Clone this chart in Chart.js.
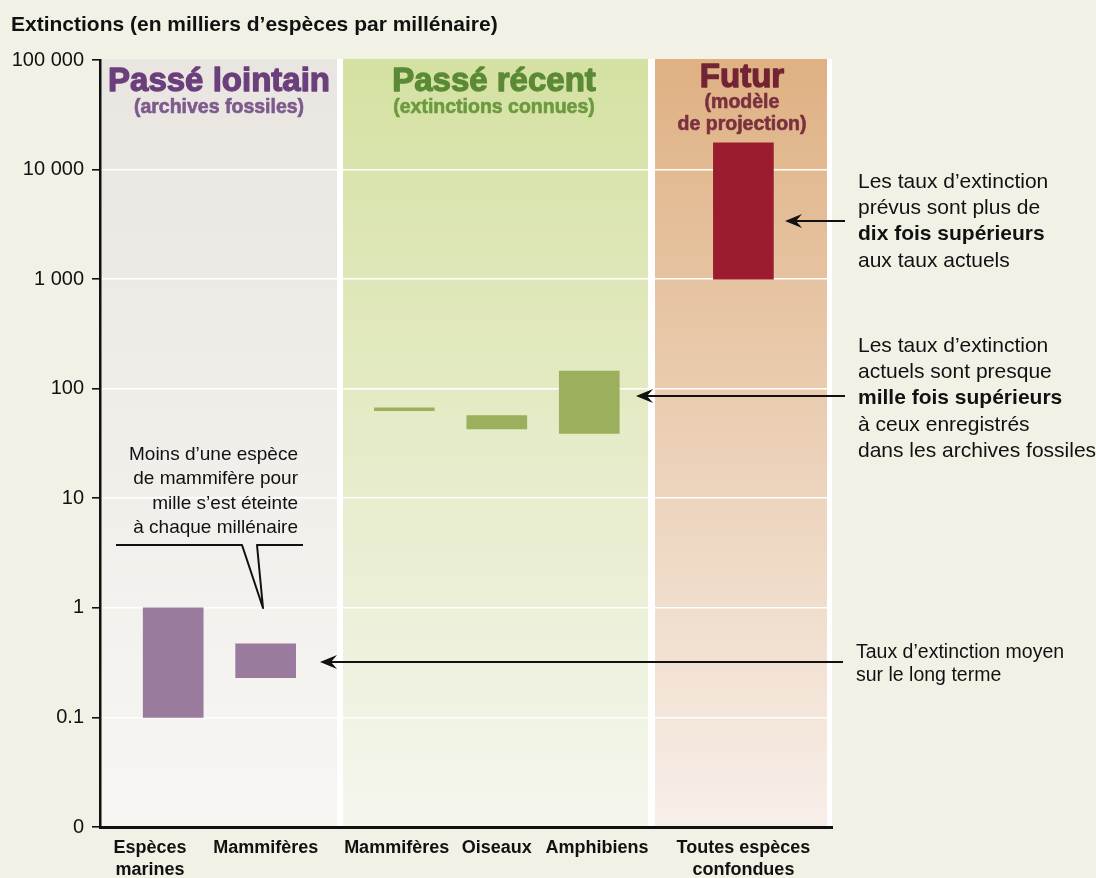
<!DOCTYPE html>
<html lang="fr">
<head>
<meta charset="utf-8">
<title>Extinctions</title>
<script src="https://cdn.jsdelivr.net/npm/chart.js@4.4.1/dist/chart.umd.min.js"></script>
<style>
  html, body { margin: 0; padding: 0; background: #f2f1e6; }
  #wrap { width: 1096px; height: 878px; position: relative; }
</style>
</head>
<body>
<div id="wrap"><canvas id="graphique"></canvas></div>
<script>
// Données (milliers d'espèces par millénaire)
const categories = [["Espèces", "marines"], "Mammifères", "Mammifères", "Oiseaux", "Amphibiens", ["Toutes espèces", "confondues"]];
const periodes = ["lointain", "lointain", "recent", "recent", "recent", "futur"];
const bas = [0.1, 0.23, 63, 43, 39, 1000];
const hauts = [1, 0.47, 67, 57, 145, 17500];
const yTicks = [0.01, 0.1, 1, 10, 100, 1000, 10000, 100000];
const yTickLabels = ["0", "0.1", "1", "10", "100", "1 000", "10 000", "100 000"];

// mise en page : l'axe x est découpé en emplacements, la plupart restent vides
const NB_EMPLACEMENTS = 95;
const EMPLACEMENTS = [9, 21, 39, 51, 63, 83];      // barres
const EMPLACEMENTS_TEXTE = [6, 21, 38, 51, 64, 83]; // étiquettes (décalées comme sur l'original)

const couleurs = { lointain: "#9a7b9d", recent: "#9caf5c", futur: "#9b1b2f" };
const POLICE = "'Liberation Sans', Arial, Helvetica, sans-serif";

const etiquettes = Array(NB_EMPLACEMENTS).fill("");
const valeurs = Array(NB_EMPLACEMENTS).fill(null);
const fonds = Array(NB_EMPLACEMENTS).fill("transparent");
EMPLACEMENTS.forEach((s, i) => {
  valeurs[s] = [bas[i], hauts[i]];
  fonds[s] = couleurs[periodes[i]];
});
EMPLACEMENTS_TEXTE.forEach((s, i) => { etiquettes[s] = categories[i]; });

function fleche(ctx, x1, x2, y) {
  ctx.beginPath();
  ctx.moveTo(x2, y);
  ctx.lineTo(x1 + 8, y);
  ctx.stroke();
  ctx.beginPath();
  ctx.moveTo(x1, y);
  ctx.lineTo(x1 + 17, y - 7);
  ctx.lineTo(x1 + 11, y);
  ctx.lineTo(x1 + 17, y + 7);
  ctx.closePath();
  ctx.fill();
}

function lignes(ctx, textes, x, y, pas, taille, gras) {
  textes.forEach((t, i) => {
    ctx.font = (gras.includes(i) ? "bold " : "") + taille + "px " + POLICE;
    ctx.fillText(t, x, y + i * pas);
  });
}

function titreGras(ctx, texte, x, y, taille, couleur, epaisseur) {
  ctx.font = "bold " + taille + "px " + POLICE;
  ctx.fillStyle = couleur;
  ctx.strokeStyle = couleur;
  ctx.lineWidth = epaisseur;
  ctx.lineJoin = "round";
  ctx.fillText(texte, x, y);
  ctx.strokeText(texte, x, y);
}

const decor = {
  id: "decor",
  beforeDraw(chart) {
    const { ctx, chartArea: a } = chart;
    ctx.save();
    ctx.fillStyle = "#ffffff";
    ctx.fillRect(a.left, a.top - 1, a.right - a.left, a.bottom - a.top + 1);
    const panneaux = [
      [a.left, 337, "#e9e6e1", "#f7f6f2"],
      [343, 648, "#d5e1a2", "#f5f6ee"],
      [655, 827, "#dfb183", "#f7efe9"],
    ];
    panneaux.forEach(([x1, x2, c1, c2]) => {
      const g = ctx.createLinearGradient(0, a.top, 0, a.bottom);
      g.addColorStop(0, c1);
      g.addColorStop(1, c2);
      ctx.fillStyle = g;
      ctx.fillRect(x1, a.top - 1, x2 - x1, a.bottom - a.top + 1);
    });
    ctx.restore();
  },
  afterDraw(chart) {
    const ctx = chart.ctx;
    ctx.save();
    ctx.textBaseline = "middle";

    // titre de l'axe
    ctx.fillStyle = "#111";
    ctx.textAlign = "left";
    ctx.font = "bold 21px " + POLICE;
    ctx.fillText("Extinctions (en milliers d’espèces par millénaire)", 11, 25);

    // en-têtes des périodes
    ctx.textAlign = "center";
    titreGras(ctx, "Passé lointain", 219, 82, 33, "#6b3f7c", 1.3);
    titreGras(ctx, "(archives fossiles)", 219, 108, 19.5, "#7d5a8d", 0.6);
    titreGras(ctx, "Passé récent", 494, 82, 33, "#5b8a34", 1.3);
    titreGras(ctx, "(extinctions connues)", 494, 108, 19.5, "#6c9a3f", 0.6);
    titreGras(ctx, "Futur", 742, 78, 33, "#722434", 1.3);
    titreGras(ctx, "(modèle", 742, 103, 19.5, "#7b3040", 0.6);
    titreGras(ctx, "de projection)", 742, 125, 19.5, "#7b3040", 0.6);

    // notes de droite
    ctx.fillStyle = "#111";
    ctx.textAlign = "left";
    lignes(ctx, ["Les taux d’extinction", "prévus sont plus de", "dix fois supérieurs", "aux taux actuels"], 858, 182, 26.3, 21, [2]);
    lignes(ctx, ["Les taux d’extinction", "actuels sont presque", "mille fois supérieurs", "à ceux enregistrés", "dans les archives fossiles"], 858, 346, 26.3, 21, [2]);
    lignes(ctx, ["Taux d’extinction moyen", "sur le long terme"], 856, 653, 22.5, 19.5, []);

    // bulle des mammifères
    ctx.textAlign = "right";
    lignes(ctx, ["Moins d’une espèce", "de mammifère pour", "mille s’est éteinte", "à chaque millénaire"], 298, 455, 24.2, 19, []);

    ctx.strokeStyle = "#111";
    ctx.fillStyle = "#111";
    ctx.lineWidth = 2;
    ctx.beginPath();
    ctx.moveTo(116, 545);
    ctx.lineTo(242, 545);
    ctx.lineTo(263, 608);
    ctx.lineTo(257, 545);
    ctx.lineTo(303, 545);
    ctx.stroke();

    // flèches
    fleche(ctx, 785, 845, 221);
    fleche(ctx, 636, 845, 396);
    fleche(ctx, 320, 843, 662);

    ctx.restore();
  },
};

new Chart(document.getElementById("graphique"), {
  type: "bar",
  data: {
    labels: etiquettes,
    datasets: [
      {
        data: valeurs,
        backgroundColor: fonds,
        borderWidth: 0,
        barThickness: 60,
      },
    ],
  },
  options: {
    responsive: true,
    maintainAspectRatio: false,
    animation: false,
    layout: { padding: { left: 12, top: 60, right: 264, bottom: 0 } },
    plugins: {
      legend: { display: false },
      tooltip: {
        filter: (item) => item.raw !== null,
      },
    },
    scales: {
      x: {
        grid: { display: false, drawTicks: false },
        border: { display: true, color: "#111", width: 3 },
        ticks: {
          autoSkip: false,
          maxRotation: 0,
          minRotation: 0,
          padding: 11,
          color: "#111",
          font: { family: POLICE, size: 18, weight: "bold", lineHeight: 1.17 },
        },
        afterFit: (s) => { s.height = 51; },
      },
      y: {
        type: "logarithmic",
        min: 0.01,
        max: 100000,
        afterBuildTicks: (s) => { s.ticks = yTicks.map((v) => ({ value: v })); },
        grid: {
          color: (c) => (c.tick && c.tick.value >= 100000 ? "rgba(0,0,0,0)" : "#ffffff"),
          lineWidth: 1.6,
          tickColor: "#111",
          tickLength: 8,
        },
        border: { display: true, color: "#111", width: 2.5 },
        ticks: {
          padding: 8,
          color: "#111",
          font: { family: POLICE, size: 20 },
          callback: (v) => {
            const i = yTicks.findIndex((t) => Math.abs(Math.log10(t) - Math.log10(v)) < 1e-6);
            return i >= 0 ? yTickLabels[i] : "";
          },
        },
        afterFit: (s) => { s.width = 88; },
      },
    },
  },
  plugins: [decor],
});
</script>
</body>
</html>
